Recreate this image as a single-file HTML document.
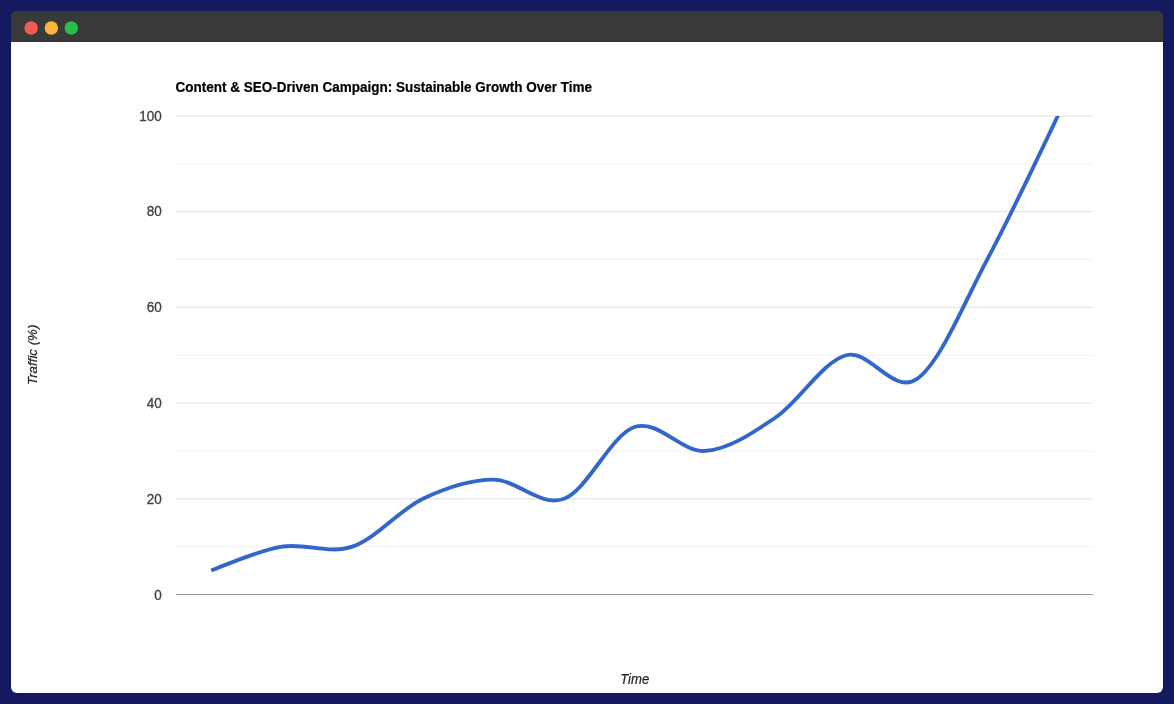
<!DOCTYPE html>
<html lang="en">
<head>
<meta charset="utf-8">
<title>Content &amp; SEO-Driven Campaign</title>
<style>
html,body{margin:0;padding:0;}
body{width:1174px;height:704px;background:#151a60;overflow:hidden;position:relative;font-family:"Liberation Sans",Arial,sans-serif;}
.win{position:absolute;left:11px;top:11px;width:1152px;height:682px;border-radius:6px;background:linear-gradient(#38393b 0,#38393b 30px,#fff 31.3px,#fff 100%);overflow:hidden;}
.bar{position:absolute;left:0;top:0;right:0;height:31.3px;background:#38393b;border-bottom:1px solid #323335;box-sizing:border-box;}
svg{position:absolute;left:0;top:0;}
.tick{font-family:"Liberation Sans",Arial,sans-serif;font-size:13.5px;fill:#404040;stroke:#404040;stroke-width:0.3px;}
.title{font-family:"Liberation Sans",Arial,sans-serif;font-size:13.5px;font-weight:bold;fill:#000;stroke:#000;stroke-width:0.2px;}
.axis{font-family:"Liberation Sans",Arial,sans-serif;font-size:13.3px;font-style:italic;fill:#222;stroke:#222;stroke-width:0.2px;}
</style>
</head>
<body>
<div class="win">
  <div class="bar"></div>
</div>
<svg width="1174" height="704" viewBox="0 0 1174 704">
<circle cx="31.15" cy="28.05" r="6.75" fill="#f55b52"/><circle cx="51.35" cy="28.05" r="6.75" fill="#fbb53a"/><circle cx="71.3" cy="28.05" r="6.75" fill="#2bbd48"/>
<text transform="translate(175.6,91.7) scale(1,1.05)" class="title">Content &amp; SEO-Driven Campaign: Sustainable Growth Over Time</text>
<rect x="176.0" y="546.15" width="917.0" height="1" fill="#f1f1f1"/>
<rect x="176.0" y="498.30" width="917.0" height="1" fill="#e2e2e2"/>
<rect x="176.0" y="450.45" width="917.0" height="1" fill="#f1f1f1"/>
<rect x="176.0" y="402.60" width="917.0" height="1" fill="#e2e2e2"/>
<rect x="176.0" y="354.75" width="917.0" height="1" fill="#f1f1f1"/>
<rect x="176.0" y="306.90" width="917.0" height="1" fill="#e2e2e2"/>
<rect x="176.0" y="259.05" width="917.0" height="1" fill="#f1f1f1"/>
<rect x="176.0" y="211.20" width="917.0" height="1" fill="#e2e2e2"/>
<rect x="176.0" y="163.35" width="917.0" height="1" fill="#f1f1f1"/>
<rect x="176.0" y="115.50" width="917.0" height="1" fill="#e2e2e2"/>

<rect x="176.0" y="594.0" width="917.0" height="1" fill="#999"/>
<text transform="translate(161.8,600.08) scale(1,1.05)" text-anchor="end" class="tick">0</text>
<text transform="translate(161.8,503.98) scale(1,1.05)" text-anchor="end" class="tick">20</text>
<text transform="translate(161.8,408.08) scale(1,1.05)" text-anchor="end" class="tick">40</text>
<text transform="translate(161.8,312.13) scale(1,1.05)" text-anchor="end" class="tick">60</text>
<text transform="translate(161.8,216.18) scale(1,1.05)" text-anchor="end" class="tick">80</text>
<text transform="translate(161.8,121.08) scale(1,1.05)" text-anchor="end" class="tick">100</text>

<defs><clipPath id="ca"><rect x="176.0" y="116.0" width="917.0" height="479.0"/></clipPath></defs>
<g clip-path="url(#ca)"><path d="M211.27,570.58C211.27,570.58,258.29,550.64,281.81,546.65C305.32,542.66,328.83,554.62,352.35,546.65C375.86,538.67,399.37,509.97,422.88,498.80C446.40,487.63,469.91,479.66,493.42,479.66C516.94,479.66,540.45,507.57,563.96,498.80C587.47,490.03,610.99,435.00,634.50,427.02C658.01,419.05,681.53,452.54,705.04,450.95C728.55,449.36,752.06,433.41,775.58,417.46C799.09,401.51,822.60,361.63,846.12,355.25C869.63,348.87,893.14,395.12,916.65,379.18C940.17,363.23,963.68,303.41,987.19,259.55C1010.71,215.69,1057.73,116.00,1057.73,116.00L1059.44,112.38" fill="none" stroke="#3366cc" stroke-width="3.85"/></g>
<text transform="translate(634.7,684.1) scale(0.99,1.05)" text-anchor="middle" class="axis">Time</text>
<text transform="translate(37.2,354.8) rotate(-90) scale(1,1.02)" text-anchor="middle" class="axis">Traffic (%)</text>
</svg>
</body>
</html>
